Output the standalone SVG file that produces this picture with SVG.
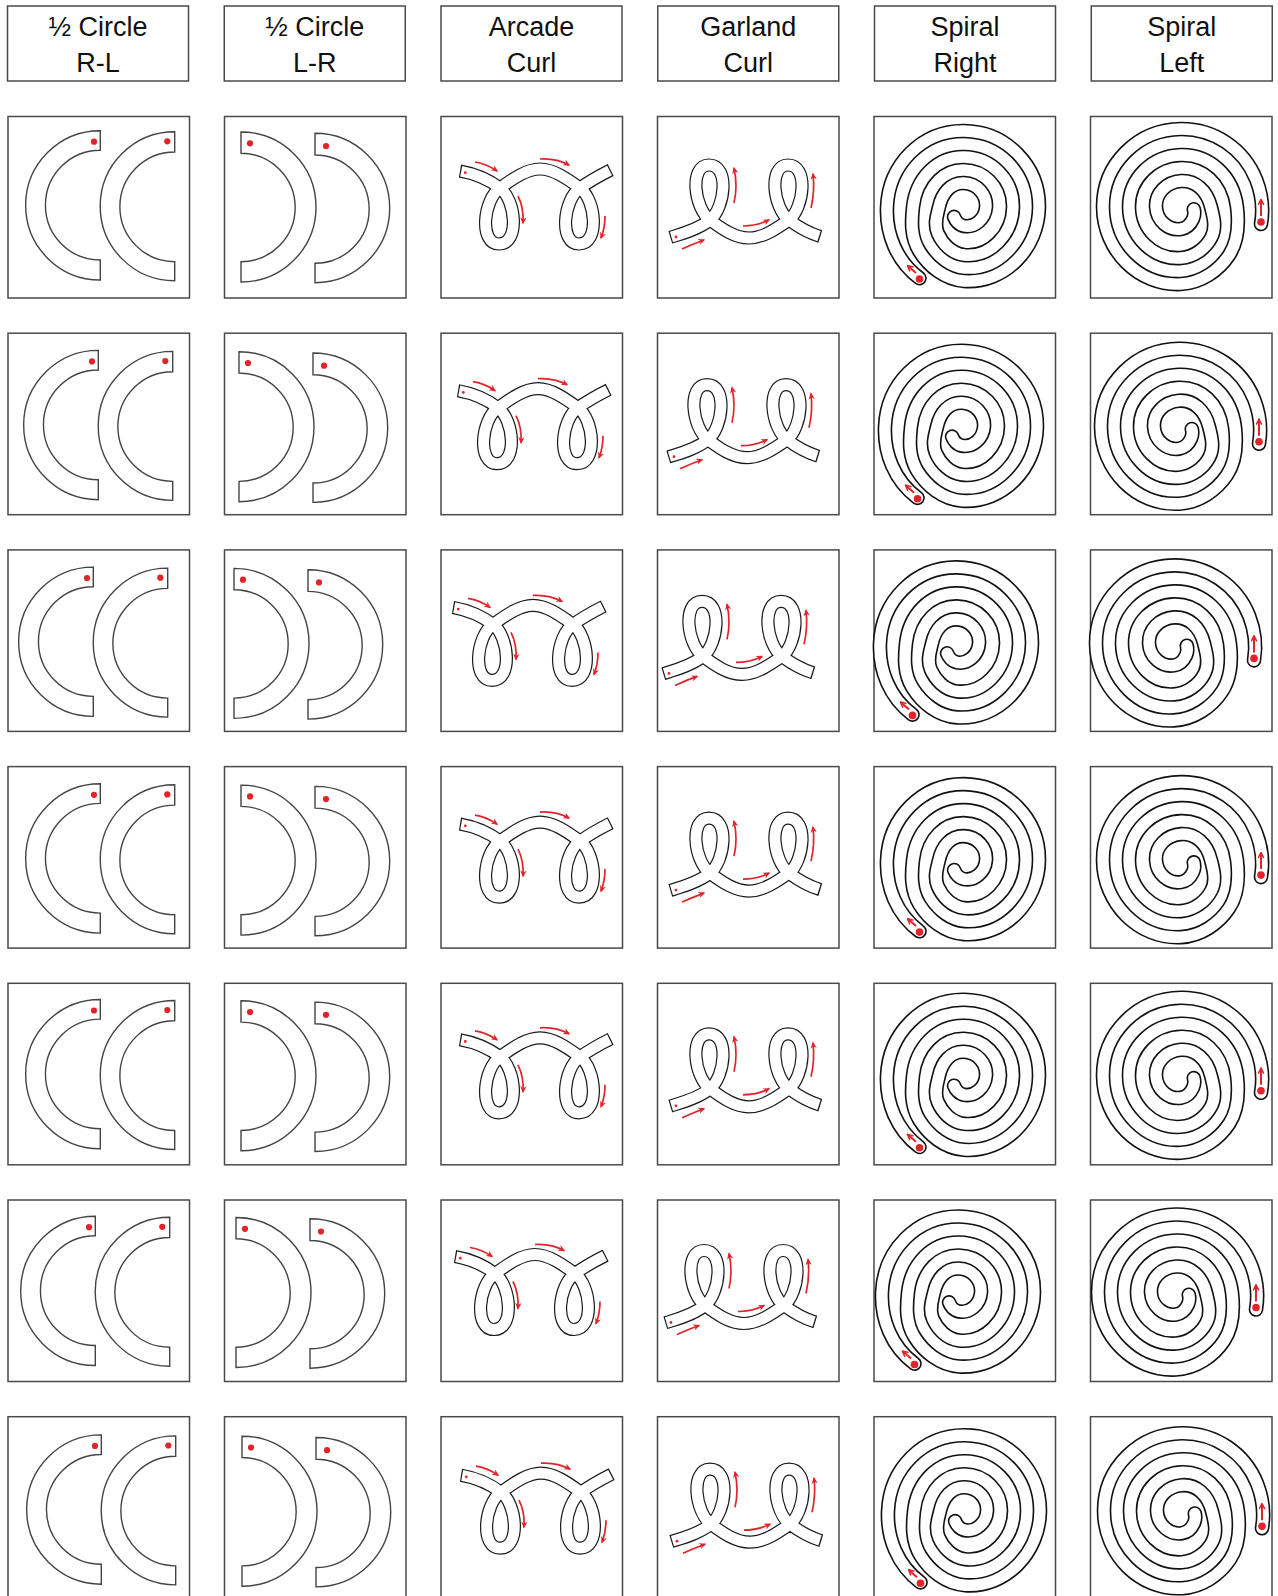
<svg xmlns="http://www.w3.org/2000/svg" width="1278" height="1596" viewBox="0 0 1278 1596">
<style>
.hb,.cb{fill:#fff;stroke:#4a4a4a;stroke-width:1.5}
.ht{font-family:"Liberation Sans",Arial,sans-serif;font-size:27px;text-anchor:middle;fill:#111}
.hc{fill:none;stroke:#444;stroke-width:1.4}
.dot{fill:#e2232a}
.rb{fill:none;stroke:#1a1a1a;stroke-width:13.2;stroke-linejoin:round}
.rw{fill:none;stroke:#fff;stroke-width:10.8;stroke-dasharray:994 6;stroke-dashoffset:997}
.sb{fill:none;stroke:#111;stroke-width:14.6;stroke-linecap:round;stroke-linejoin:round}
.sw{fill:none;stroke:#fff;stroke-width:11.4;stroke-linecap:round;stroke-linejoin:round}
.ar{fill:none;stroke:#e2232a;stroke-width:1.7;marker-end:url(#ah)}
.ar2{fill:none;stroke:#e2232a;stroke-width:2;marker-end:url(#ah2)}
</style>
<defs>
<marker id="ah" viewBox="0 0 10 10" refX="8" refY="5" markerWidth="7" markerHeight="7" markerUnits="userSpaceOnUse" orient="auto"><path d="M0,0.5 L10,5 L0,9.5 L3,5 Z" fill="#e2232a"/></marker>
<marker id="ah2" viewBox="0 0 10 10" refX="8" refY="5" markerWidth="7" markerHeight="7" markerUnits="userSpaceOnUse" orient="auto"><path d="M1,1 L9,5 L1,9" fill="none" stroke="#e2232a" stroke-width="2.2"/></marker>
<path id="pArc" pathLength="1000" d="M18,55 C30,57 46,63 58,72 C74,84 78,128 57,128 C37,128 41,84 58,72 C70,63.5 84,53 98,53 C112,53 126,63.5 138,72 C154,84 158,128 137,128 C117,128 121,84 138,72 C150,63.5 160.7,58 168.7,54"/>
<path id="pGar" pathLength="1000" d="M13.3,121.3 C24.3,118 41,113.6 53,104 C68,92 73,49 52,49 C32,49 37,92 53,104 C65,113 78,122 92,122 C106,122 119,113 132,104 C147,92 152,49 131,49 C111,49 116,92 132,104 C144,113 152.3,117.2 163.3,120.5"/>
<path id="pSR" d="M46.5,162.2 C23.2,144.8 12.9,117.5 14,91 C15.7,48.5 49,14.6 91,15 C133,15.4 166.4,49.6 166,91 C165.6,132.4 131.9,167.8 91,165 C71.4,163.6 55.6,150 46.5,135.5 C37.4,121 38.5,104.5 40,91 C43,62.8 63.4,40.6 91,41 C118.6,41.4 140.4,63.9 140,91 C139.6,118.1 117.5,141.8 91,139 C78.3,137.6 69,126.9 64.8,117.2 C60.6,107.5 64.5,97.6 66,91 C69,77.2 77.7,66.5 91,67 C104.3,67.5 113.9,78.8 113,91 C112.1,103.2 101.5,111.9 91,110 C86,109.1 82.5,104.7 81.1,100.9"/>
<path id="pSL" d="M171,108 C173.6,92.9 171.7,77.6 166.2,63.6 C153.8,32.3 123.8,12.7 91,13 C47.9,13.4 12.8,47.9 13,91 C13.2,134.1 48.5,170.3 91,168 C111.4,166.9 128.9,154.4 139.1,139.1 C149.3,123.8 148.8,105.9 147,91 C143.2,60.1 119.7,38.3 91,39 C62.3,39.7 38.8,62.3 39,91 C39.2,119.7 62.8,144.1 91,142 C104.5,141 115.9,132 121.4,121.4 C126.9,110.8 122.9,99 121,91 C117,74.4 105.4,64.1 91,65 C76.6,65.9 65.3,77.2 66,91 C66.7,104.8 78.8,114.9 91,113 C96.8,112.1 101,107.4 103,103 C104.5,99.6 104.6,96.2 103.8,93.3"/>
<g id="hcRL">
<path class="hc" d="M92.3,14.7 A74.6,74.6 0 0 0 92.3,164 L92.3,144 A54.8,54.8 0 0 1 92.3,34.3 Z"/>
<path class="hc" d="M166.7,15.7 A74.5,74.5 0 0 0 166.7,164.7 L166.7,145.7 A54.85,54.85 0 0 1 166.7,36 Z"/>
<circle class="dot" cx="86" cy="25.7" r="3.1"/>
<circle class="dot" cx="159.3" cy="25.3" r="3.1"/>
</g>
<g id="hcLR">
<path class="hc" d="M16,16 A75,75 0 0 1 16,166 L16,145.7 A54.2,54.2 0 0 0 16,37.3 Z"/>
<path class="hc" d="M90,17.3 A74.7,74.7 0 0 1 90,166.7 L90,147.3 A54.15,54.15 0 0 0 90,39 Z"/>
<circle class="dot" cx="25" cy="27.3" r="3.1"/>
<circle class="dot" cx="101" cy="30" r="3.1"/>
</g>
<g id="arc">
<use href="#pArc" class="rb"/><use href="#pArc" class="rw"/>
<circle class="dot" cx="23.3" cy="56.7" r="1.4"/>
<path class="ar" d="M33,46 Q45,48 55,55"/>
<path class="ar" d="M76,80 Q82,92 81,107"/>
<path class="ar" d="M98,43 Q114,42 127,49"/>
<path class="ar" d="M163,100 Q163,112 159,122"/>
</g>
<g id="gar">
<use href="#pGar" class="rb"/><use href="#pGar" class="rw"/>
<circle class="dot" cx="19" cy="121" r="1.4"/>
<path class="ar" d="M25,133 Q36,128 47,124"/>
<path class="ar" d="M77,87 Q81,70 77,52"/>
<path class="ar" d="M86,110 Q100,110 112,104"/>
<path class="ar" d="M154,92 Q158,75 156,58"/>
</g>
<g id="sr">
<use href="#pSR" class="sb"/><use href="#pSR" class="sw"/>
<circle class="dot" cx="46.5" cy="163" r="3.8"/>
<path class="ar2" d="M43,157 L35,150"/>
</g>
<g id="sl">
<use href="#pSL" class="sb"/><use href="#pSL" class="sw"/>
<circle class="dot" cx="171" cy="106" r="3.8"/>
<path class="ar2" d="M171,100 L171,84"/>
</g>
</defs>
<g id="headers">
<g id="h1"><rect class="hb" x="7.5" y="6" width="181" height="75"/><text class="ht" x="98" y="36">½ Circle</text><text class="ht" x="98" y="72">R-L</text></g>
<g id="h2"><rect class="hb" x="224.25" y="6" width="181" height="75"/><text class="ht" x="314.75" y="36">½ Circle</text><text class="ht" x="314.75" y="72">L-R</text></g>
<g id="h3"><rect class="hb" x="441" y="6" width="181" height="75"/><text class="ht" x="531.5" y="36">Arcade</text><text class="ht" x="531.5" y="72">Curl</text></g>
<g id="h4"><rect class="hb" x="657.75" y="6" width="181" height="75"/><text class="ht" x="748.25" y="36">Garland</text><text class="ht" x="748.25" y="72">Curl</text></g>
<g id="h5"><rect class="hb" x="874.5" y="6" width="181" height="75"/><text class="ht" x="965" y="36">Spiral</text><text class="ht" x="965" y="72">Right</text></g>
<g id="h6"><rect class="hb" x="1091.25" y="6" width="181" height="75"/><text class="ht" x="1181.75" y="36">Spiral</text><text class="ht" x="1181.75" y="72">Left</text></g>
</g>
<g id="row1">
<g id="r1c1"><rect class="cb" x="8" y="116.5" width="181.5" height="181.5"/><use href="#hcRL" x="8" y="116"/></g>
<g id="r1c2"><rect class="cb" x="224.5" y="116.5" width="181.5" height="181.5"/><use href="#hcLR" x="225" y="116"/></g>
<g id="r1c3"><rect class="cb" x="441" y="116.5" width="181.5" height="181.5"/><use href="#arc" x="442" y="116"/></g>
<g id="r1c4"><rect class="cb" x="657.5" y="116.5" width="181.5" height="181.5"/><use href="#gar" x="657" y="116"/></g>
<g id="r1c5"><rect class="cb" x="874" y="116.5" width="181.5" height="181.5"/><use href="#sr" x="873" y="116"/></g>
<g id="r1c6"><rect class="cb" x="1090.5" y="116.5" width="181.5" height="181.5"/><use href="#sl" x="1090" y="116"/></g>
</g>
<g id="row2">
<g id="r2c1"><rect class="cb" x="8" y="333.2" width="181.5" height="181.5"/><use href="#hcRL" x="6" y="335.7"/></g>
<g id="r2c2"><rect class="cb" x="224.5" y="333.2" width="181.5" height="181.5"/><use href="#hcLR" x="223" y="335.7"/></g>
<g id="r2c3"><rect class="cb" x="441" y="333.2" width="181.5" height="181.5"/><use href="#arc" x="440" y="335.7"/></g>
<g id="r2c4"><rect class="cb" x="657.5" y="333.2" width="181.5" height="181.5"/><use href="#gar" x="655" y="335.7"/></g>
<g id="r2c5"><rect class="cb" x="874" y="333.2" width="181.5" height="181.5"/><use href="#sr" x="871" y="335.7"/></g>
<g id="r2c6"><rect class="cb" x="1090.5" y="333.2" width="181.5" height="181.5"/><use href="#sl" x="1088" y="335.7"/></g>
</g>
<g id="row3">
<g id="r3c1"><rect class="cb" x="8" y="549.9" width="181.5" height="181.5"/><use href="#hcRL" x="1" y="552.4"/></g>
<g id="r3c2"><rect class="cb" x="224.5" y="549.9" width="181.5" height="181.5"/><use href="#hcLR" x="218" y="552.4"/></g>
<g id="r3c3"><rect class="cb" x="441" y="549.9" width="181.5" height="181.5"/><use href="#arc" x="435" y="552.4"/></g>
<g id="r3c4"><rect class="cb" x="657.5" y="549.9" width="181.5" height="181.5"/><use href="#gar" x="650" y="552.4"/></g>
<g id="r3c5"><rect class="cb" x="874" y="549.9" width="181.5" height="181.5"/><use href="#sr" x="866" y="552.4"/></g>
<g id="r3c6"><rect class="cb" x="1090.5" y="549.9" width="181.5" height="181.5"/><use href="#sl" x="1083" y="552.4"/></g>
</g>
<g id="row4">
<g id="r4c1"><rect class="cb" x="8" y="766.6" width="181.5" height="181.5"/><use href="#hcRL" x="8" y="769.1"/></g>
<g id="r4c2"><rect class="cb" x="224.5" y="766.6" width="181.5" height="181.5"/><use href="#hcLR" x="225" y="769.1"/></g>
<g id="r4c3"><rect class="cb" x="441" y="766.6" width="181.5" height="181.5"/><use href="#arc" x="442" y="769.1"/></g>
<g id="r4c4"><rect class="cb" x="657.5" y="766.6" width="181.5" height="181.5"/><use href="#gar" x="657" y="769.1"/></g>
<g id="r4c5"><rect class="cb" x="874" y="766.6" width="181.5" height="181.5"/><use href="#sr" x="873" y="769.1"/></g>
<g id="r4c6"><rect class="cb" x="1090.5" y="766.6" width="181.5" height="181.5"/><use href="#sl" x="1090" y="769.1"/></g>
</g>
<g id="row5">
<g id="r5c1"><rect class="cb" x="8" y="983.3" width="181.5" height="181.5"/><use href="#hcRL" x="8" y="984.8"/></g>
<g id="r5c2"><rect class="cb" x="224.5" y="983.3" width="181.5" height="181.5"/><use href="#hcLR" x="225" y="984.8"/></g>
<g id="r5c3"><rect class="cb" x="441" y="983.3" width="181.5" height="181.5"/><use href="#arc" x="442" y="984.8"/></g>
<g id="r5c4"><rect class="cb" x="657.5" y="983.3" width="181.5" height="181.5"/><use href="#gar" x="657" y="984.8"/></g>
<g id="r5c5"><rect class="cb" x="874" y="983.3" width="181.5" height="181.5"/><use href="#sr" x="873" y="984.8"/></g>
<g id="r5c6"><rect class="cb" x="1090.5" y="983.3" width="181.5" height="181.5"/><use href="#sl" x="1090" y="984.8"/></g>
</g>
<g id="row6">
<g id="r6c1"><rect class="cb" x="8" y="1200" width="181.5" height="181.5"/><use href="#hcRL" x="3" y="1201.5"/></g>
<g id="r6c2"><rect class="cb" x="224.5" y="1200" width="181.5" height="181.5"/><use href="#hcLR" x="220" y="1201.5"/></g>
<g id="r6c3"><rect class="cb" x="441" y="1200" width="181.5" height="181.5"/><use href="#arc" x="437" y="1201.5"/></g>
<g id="r6c4"><rect class="cb" x="657.5" y="1200" width="181.5" height="181.5"/><use href="#gar" x="652" y="1201.5"/></g>
<g id="r6c5"><rect class="cb" x="874" y="1200" width="181.5" height="181.5"/><use href="#sr" x="868" y="1201.5"/></g>
<g id="r6c6"><rect class="cb" x="1090.5" y="1200" width="181.5" height="181.5"/><use href="#sl" x="1085" y="1201.5"/></g>
</g>
<g id="row7">
<g id="r7c1"><rect class="cb" x="8" y="1416.7" width="181.5" height="181.5"/><use href="#hcRL" x="9" y="1420.2"/></g>
<g id="r7c2"><rect class="cb" x="224.5" y="1416.7" width="181.5" height="181.5"/><use href="#hcLR" x="226" y="1420.2"/></g>
<g id="r7c3"><rect class="cb" x="441" y="1416.7" width="181.5" height="181.5"/><use href="#arc" x="443" y="1420.2"/></g>
<g id="r7c4"><rect class="cb" x="657.5" y="1416.7" width="181.5" height="181.5"/><use href="#gar" x="658" y="1420.2"/></g>
<g id="r7c5"><rect class="cb" x="874" y="1416.7" width="181.5" height="181.5"/><use href="#sr" x="874" y="1420.2"/></g>
<g id="r7c6"><rect class="cb" x="1090.5" y="1416.7" width="181.5" height="181.5"/><use href="#sl" x="1091" y="1420.2"/></g>
</g>
</svg>
